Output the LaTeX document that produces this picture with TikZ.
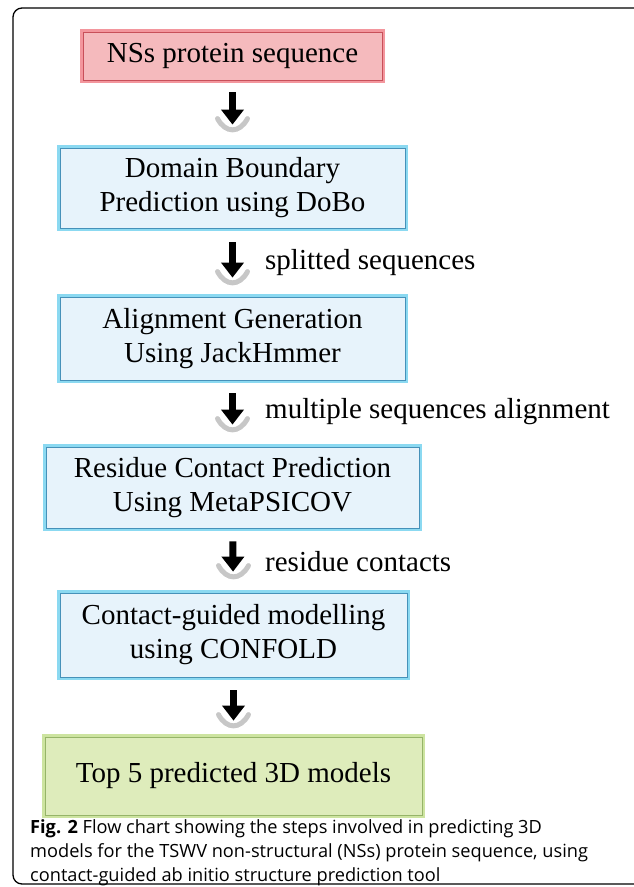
\documentclass[tikz,border=0pt]{standalone}
\usepackage{fontspec}
\setmainfont{Liberation Serif}
\newfontfamily\capfont{Open Sans}
\usepackage{tikz}
\usetikzlibrary{arrows.meta}
\usetikzlibrary{calc,shadows}

\definecolor{nsfill}{RGB}{245,186,189}
\definecolor{nsglow}{RGB}{238,105,115}
\definecolor{nsline}{RGB}{200,80,90}
\definecolor{stepfill}{RGB}{231,243,251}
\definecolor{stepglow}{RGB}{110,208,238}
\definecolor{stepline}{RGB}{70,145,185}
\definecolor{endfill}{RGB}{222,236,187}
\definecolor{endglow}{RGB}{205,228,160}
\definecolor{endline}{RGB}{150,180,105}

\tikzset{
  box/.style={rectangle, inner sep=0pt, align=center,
    font=\fontsize{29}{34}\selectfont, line width=.8pt,
    drop shadow={shadow xshift=2pt, shadow yshift=-3pt, opacity=.25}},
  redbox/.style={box, fill=nsfill, draw=nsline,
    preaction={draw=nsglow!70, line width=6pt}},
  bluebox/.style={box, fill=stepfill, draw=stepline,
    preaction={draw=stepglow!80, line width=6pt}},
  greenbox/.style={box, fill=endfill, draw=endline,
    preaction={draw=endglow, line width=6pt}},
  fat/.style={line width=7pt, -{Triangle[width=22pt,length=15pt]}},
  halo/.style={line width=5pt, line cap=round, color=black!22},
  lab/.style={anchor=west, inner sep=0pt, font=\fontsize{29}{34}\selectfont}
}

\begin{document}
\begin{tikzpicture}[x=1pt,y=-1pt]
  \useasboundingbox (0,0) rectangle (634,887);
  %outer frame, its right edge runs off the page
  \draw [line width=1.3pt, rounded corners=9pt] (13,8) rectangle (645,884);

  %boxes placed by hand
  \node [redbox, minimum width=299pt, minimum height=48pt] (nss) at (232.5,56)
    {NSs protein sequence};
  \node [bluebox, minimum width=345pt, minimum height=80pt] (dobo) at (232.5,188)
    {Domain Boundary\\Prediction using DoBo};
  \node [bluebox, minimum width=345pt, minimum height=83pt] (jack) at (232.5,338.5)
    {Alignment Generation\\Using JackHmmer};
  \node [bluebox, minimum width=373pt, minimum height=81pt] (meta) at (232.5,487.5)
    {Residue Contact Prediction\\Using MetaPSICOV};
  \node [bluebox, minimum width=347pt, minimum height=84pt] (conf) at (233.5,635)
    {Contact-guided modelling\\using CONFOLD};
  \node [greenbox, minimum width=377pt, minimum height=78pt] (top) at (233.5,776)
    {Top 5 predicted 3D models};

  %%arrows with their grey halo drawn with a loop
  \foreach \a/\b/\s/\e in {nss/dobo/12/23, dobo/jack/14/19, jack/meta/13/22,
                           meta/conf/13/21, conf/top/13/16}{
    \coordinate (tip) at ($(\b.north)+(0,-\e)$);
    \draw [halo] ($(tip)+(-15,-6)$) .. controls ($(tip)+(-7,9)$) and ($(tip)+(7,9)$) .. ($(tip)+(15,-6)$);
    \draw [fat, shorten <=\s pt, shorten >=\e pt] (\a) -- (\b);
  }

  %% edge labels
  \node [lab] (l1) at (265,263) {splitted sequences};
  \node [lab] (l2) at (265,412) {multiple sequences alignment};
  \node [lab] (l3) at (265,562) {residue contacts};

  %caption
  \node [anchor=north west, inner sep=0pt, align=left,
    font=\capfont\fontsize{18.2}{24}\selectfont] (cap) at (30,819)
    {\textbf{Fig. 2} Flow chart showing the steps involved in predicting 3D\\
     models for the TSWV non-structural (NSs) protein sequence, using\\
     contact-guided ab initio structure prediction tool};
\end{tikzpicture}
\end{document}
